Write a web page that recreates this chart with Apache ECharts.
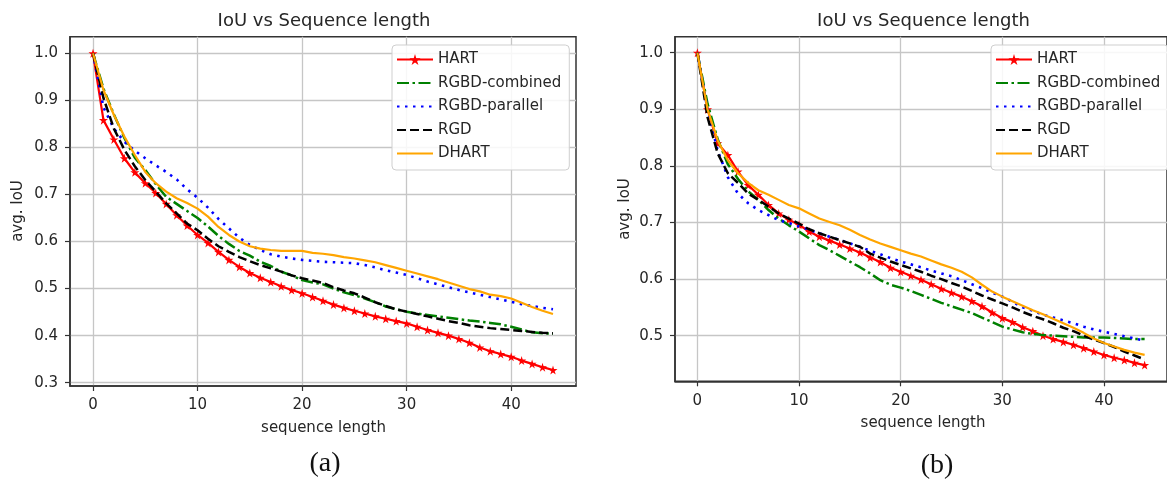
<!DOCTYPE html>
<html>
<head>
<meta charset="utf-8">
<script src="https://cdn.jsdelivr.net/npm/echarts@6/dist/echarts.min.js"></script>
<style>
html,body{margin:0;padding:0;background:#fff;}
#chart{width:1167px;height:481px;}
</style>
</head>
<body>
<div id="chart"></div>
<script>
// ---------- data ----------
const seqLen = [0,1,2,3,4,5,6,7,8,9,10,11,12,13,14,15,16,17,18,19,20,21,22,23,24,25,26,27,28,29,30,31,32,33,34,35,36,37,38,39,40,41,42,43,44];
const seriesNames = ['HART','RGBD-combined','RGBD-parallel','RGD','DHART'];
const xTicks = [0,10,20,30,40];
const yTicksA = [0.3,0.4,0.5,0.6,0.7,0.8,0.9,1.0];
const yTicksB = [0.5,0.6,0.7,0.8,0.9,1.0];
const titleText = 'IoU vs Sequence length';
const xAxisTitle = 'sequence length';
const yAxisTitle = 'avg. IoU';
const captions = ['(a)','(b)'];

// (a)
const hartA = [1.000,0.858,0.817,0.777,0.747,0.724,0.703,0.680,0.656,0.634,0.614,0.597,0.578,0.561,0.546,0.533,0.523,0.514,0.505,0.497,0.490,0.482,0.474,0.466,0.459,0.453,0.447,0.441,0.436,0.431,0.426,0.419,0.412,0.406,0.400,0.393,0.385,0.375,0.367,0.361,0.355,0.347,0.340,0.333,0.327];
const combinedA = [1.000,0.925,0.870,0.820,0.778,0.752,0.722,0.695,0.680,0.665,0.650,0.632,0.612,0.595,0.580,0.570,0.557,0.548,0.536,0.528,0.518,0.513,0.509,0.500,0.492,0.486,0.479,0.471,0.462,0.456,0.451,0.447,0.444,0.441,0.438,0.435,0.432,0.430,0.427,0.424,0.419,0.413,0.407,0.405,0.404];
const parallelA = [1.000,0.885,0.840,0.812,0.793,0.777,0.762,0.748,0.732,0.711,0.693,0.672,0.648,0.628,0.608,0.593,0.582,0.573,0.568,0.564,0.561,0.559,0.557,0.556,0.555,0.554,0.550,0.545,0.539,0.534,0.529,0.522,0.515,0.509,0.503,0.497,0.492,0.487,0.482,0.477,0.472,0.467,0.463,0.459,0.456];
const rgdA = [1.000,0.905,0.840,0.795,0.760,0.731,0.706,0.681,0.660,0.638,0.624,0.606,0.590,0.578,0.567,0.558,0.550,0.543,0.536,0.528,0.522,0.517,0.512,0.503,0.496,0.490,0.481,0.471,0.463,0.456,0.451,0.446,0.441,0.436,0.431,0.427,0.422,0.419,0.416,0.414,0.412,0.410,0.408,0.406,0.405];
const dhartA = [1.000,0.922,0.869,0.823,0.784,0.748,0.724,0.706,0.692,0.682,0.670,0.653,0.631,0.614,0.600,0.590,0.585,0.582,0.580,0.580,0.580,0.576,0.574,0.571,0.567,0.564,0.560,0.556,0.550,0.544,0.538,0.532,0.526,0.520,0.513,0.506,0.499,0.494,0.487,0.484,0.479,0.470,0.461,0.453,0.446];

// (b)
const hartB = [1.000,0.900,0.840,0.819,0.790,0.766,0.749,0.731,0.716,0.705,0.696,0.684,0.675,0.668,0.661,0.654,0.647,0.638,0.630,0.620,0.613,0.606,0.599,0.591,0.583,0.576,0.569,0.561,0.552,0.541,0.531,0.524,0.515,0.508,0.500,0.494,0.489,0.484,0.478,0.472,0.466,0.461,0.457,0.452,0.448];
const combinedB = [1.000,0.910,0.847,0.803,0.777,0.755,0.740,0.722,0.707,0.695,0.684,0.672,0.660,0.651,0.641,0.631,0.621,0.610,0.598,0.590,0.585,0.579,0.572,0.565,0.558,0.552,0.546,0.540,0.532,0.524,0.516,0.511,0.506,0.503,0.501,0.500,0.499,0.498,0.497,0.497,0.497,0.496,0.495,0.494,0.494];
const parallelB = [1.000,0.900,0.827,0.780,0.751,0.734,0.722,0.713,0.704,0.699,0.693,0.687,0.681,0.675,0.669,0.663,0.657,0.650,0.644,0.637,0.631,0.626,0.621,0.615,0.610,0.605,0.598,0.591,0.584,0.576,0.569,0.560,0.550,0.544,0.537,0.532,0.527,0.522,0.516,0.511,0.507,0.503,0.499,0.495,0.491];
const rgdB = [1.000,0.886,0.822,0.787,0.770,0.751,0.740,0.728,0.716,0.707,0.698,0.688,0.681,0.675,0.669,0.663,0.657,0.645,0.638,0.631,0.625,0.619,0.613,0.606,0.600,0.593,0.587,0.579,0.571,0.564,0.557,0.550,0.542,0.535,0.529,0.522,0.514,0.508,0.500,0.493,0.487,0.480,0.472,0.465,0.458];
const dhartB = [1.000,0.900,0.845,0.810,0.787,0.770,0.757,0.749,0.740,0.731,0.725,0.716,0.707,0.701,0.695,0.687,0.678,0.670,0.663,0.657,0.651,0.645,0.640,0.633,0.626,0.620,0.613,0.603,0.590,0.578,0.569,0.561,0.553,0.545,0.538,0.530,0.522,0.514,0.505,0.495,0.487,0.481,0.475,0.470,0.466];

// ---------- styles ----------
const FONT = '"DejaVu Sans", sans-serif';
const TXT = '#262626';
const STAR = 'path://M50,0 L61,35 L98,35 L68,57 L79,91 L50,70 L21,91 L32,57 L2,35 L39,35 Z';
const styles = [
  {color:'#ff0000', type:'solid', width:2.2, star:true},
  {color:'#008000', type:[12,3.5,2.5,3.5], width:2.5, star:false},
  {color:'#0000ff', type:[2.5,5.5], width:2.6, star:false},
  {color:'#000000', type:[9,4], width:2.5, star:false},
  {color:'#ffa500', type:'solid', width:2.2, star:false}
];
const dataA = [hartA, combinedA, parallelA, rgdA, dhartA];
const dataB = [hartB, combinedB, parallelB, rgdB, dhartB];

function pairs(ys){ return seqLen.map((x,i)=>[x, ys[i]]); }

function makeSeries(arrs, idx){
  return arrs.map((ys, k)=>({
    name: seriesNames[k],
    type: 'line',
    xAxisIndex: idx, yAxisIndex: idx,
    data: pairs(ys),
    symbol: styles[k].star ? STAR : 'circle',
    symbolSize: 9,
    showSymbol: styles[k].star,
    itemStyle: {color: styles[k].color},
    lineStyle: {color: styles[k].color, type: styles[k].type, width: styles[k].width},
    emphasis: {disabled: true},
    animation: false,
    z: 2 + k
  }));
}

function xAxisDef(idx){
  return {
    type:'value', gridIndex: idx, min:-2.2, max:46.2,
    axisLine:{show:true, onZero:false, lineStyle:{color:'#333', width:1.5}},
    axisTick:{show:true, length:5, customValues:xTicks, lineStyle:{color:'#333', width:1.2}},
    axisLabel:{customValues:xTicks, margin:12, fontSize:15, fontFamily:FONT, color:TXT},
    splitLine:{show:true, lineStyle:{color:'#c6c6c6', width:1.3}}
  };
}
function yAxisDef(idx, min, max, ticks){
  return {
    type:'value', gridIndex: idx, min:min, max:max,
    axisLine:{show:true, onZero:false, lineStyle:{color:'#333', width:1.5}},
    axisTick:{show:true, length:5, customValues:ticks, lineStyle:{color:'#333', width:1.2}},
    axisLabel:{customValues:ticks, margin:12, fontSize:15, fontFamily:FONT, color:TXT,
      formatter:(v)=>v.toFixed(1)},
    splitLine:{show:true, lineStyle:{color:'#c6c6c6', width:1.3}}
  };
}
function legendDef(left){
  return {
    orient:'vertical', left:left, top:45,
    data: seriesNames.map((n,k)=> styles[k].star ? {name:n} : {name:n, itemStyle:{opacity:0}}),
    itemWidth:36, itemHeight:14, itemGap:6.5,
    padding:[6,8,8,4],
    backgroundColor:'rgba(255,255,255,0.85)',
    borderColor:'#cfcfcf', borderWidth:1, borderRadius:4,
    textStyle:{fontSize:15, fontFamily:FONT, color:TXT, lineHeight:17},
    selectedMode:false
  };
}

const chart = echarts.init(document.getElementById('chart'), null, {renderer:'canvas'});
chart.setOption({
  backgroundColor:'#ffffff',
  animation:false,
  grid:[
    {left:70, top:36.7, width:506, height:349.3, show:true, borderColor:'#333', borderWidth:1.5, backgroundColor:'transparent'},
    {left:675, top:36.7, width:497.6, height:344.6, show:true, borderColor:'#333', borderWidth:1.5, backgroundColor:'transparent'}
  ],
  xAxis:[xAxisDef(0), xAxisDef(1)],
  yAxis:[yAxisDef(0, 0.293, 1.0353, yTicksA), yAxisDef(1, 0.4194, 1.0283, yTicksB)],
  legend:[legendDef(392), legendDef(991)],
  series: makeSeries(dataA, 0).concat(makeSeries(dataB, 1)),
  graphic:[
    {type:'text', x:324, y:21.5, style:{text:titleText, font:'18px '+FONT, fill:TXT, textAlign:'center', textVerticalAlign:'middle'}},
    {type:'text', x:923.5, y:21.5, style:{text:titleText, font:'18px '+FONT, fill:TXT, textAlign:'center', textVerticalAlign:'middle'}},
    {type:'text', x:323.5, y:428.5, style:{text:xAxisTitle, font:'15px '+FONT, fill:TXT, textAlign:'center', textVerticalAlign:'middle'}},
    {type:'text', x:923, y:423.5, style:{text:xAxisTitle, font:'15px '+FONT, fill:TXT, textAlign:'center', textVerticalAlign:'middle'}},
    {type:'text', x:18.5, y:211, rotation:Math.PI/2, style:{text:yAxisTitle, font:'15px '+FONT, fill:TXT, textAlign:'center', textVerticalAlign:'middle'}},
    {type:'text', x:625, y:209, rotation:Math.PI/2, style:{text:yAxisTitle, font:'15px '+FONT, fill:TXT, textAlign:'center', textVerticalAlign:'middle'}},
    {type:'text', x:325, y:464, style:{text:captions[0], font:'28px "Liberation Serif", serif', fill:'#111', textAlign:'center', textVerticalAlign:'middle'}},
    {type:'text', x:937, y:466, style:{text:captions[1], font:'28px "Liberation Serif", serif', fill:'#111', textAlign:'center', textVerticalAlign:'middle'}}
  ]
});
</script>
</body>
</html>
